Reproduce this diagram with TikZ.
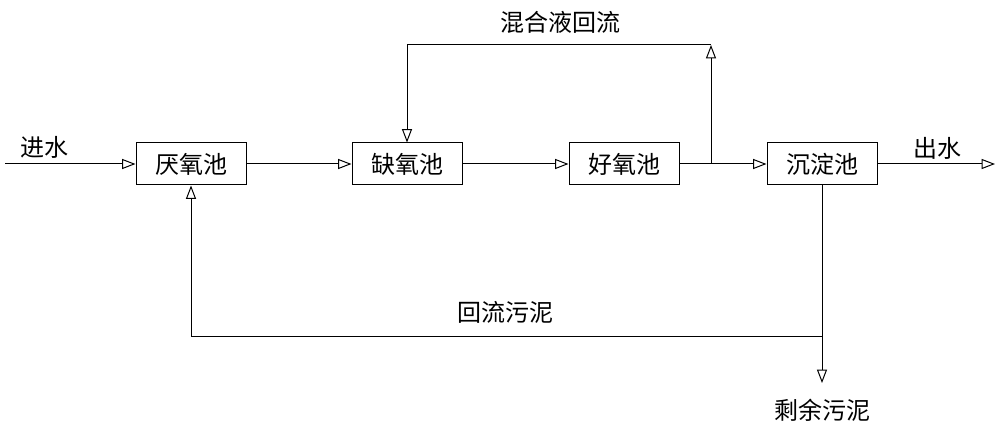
\documentclass[tikz,border=0pt]{standalone}
\usepackage{fontspec}
\setmainfont{Noto Sans CJK SC}
\usetikzlibrary{arrows.meta}
\tikzset{every picture/.style={line width=0.75pt}}
\tikzset{tank/.style={draw,minimum width=82.5pt,minimum height=31.5pt,inner sep=0pt,font=\fontsize{18}{20}\selectfont},
  lbl/.style={inner sep=0.75pt,font=\fontsize{18}{20}\selectfont},
  flow/.style={-{Triangle[open,length=10pt,width=7.5pt]}}}
\begin{document}
\begin{tikzpicture}[x=0.75pt,y=0.75pt,yscale=-1,xscale=1]
    \useasboundingbox (0,0) rectangle (1000,431);
    
    % Tanks
    \node [tank] (anae) at (191,164) {厌氧池};
    \node [tank] (anox) at (407,164) {缺氧池};
    \node [tank] (aero) at (624,164) {好氧池};
    \node [tank] (sett) at (822,164) {沉淀池};
    
    % Junctions
    \coordinate (inlet) at (5,164);
    \coordinate (outlet) at (995,164);
    \coordinate (split) at (711,164);
    \coordinate (rtop) at (711,45);
    \coordinate (ltop) at (407,45);
    \coordinate (sjoin) at (822,336);
    \coordinate (sret) at (191,336);
    \coordinate (sout) at (822,383);
    
    % Main flow
    \draw [flow] (inlet) -- (anae.west);
    \draw [flow] (anae.east) -- (anox.west);
    \draw [flow] (anox.east) -- (aero.west);
    \draw [flow] (aero.east) -- (sett.west);
    \draw [flow] (sett.east) -- (outlet);
    
    % Mixed liquor recycle
    \draw [flow] (split) -- (rtop);
    \draw [flow] (rtop) -- (ltop) -- (anox.north);
    
    % Sludge
    \draw [flow] (sett.south) -- (sout);
    \draw [flow] (sjoin) -- (sret) -- (anae.south);
    
    % Text Node
    \node [lbl] (tin) at (45,147) {进水};
    \node [lbl] (tout) at (937,148) {出水};
    \node [lbl] (tmix) at (560,22) {混合液回流};
    \node [lbl] (tret) at (505,312) {回流污泥};
    \node [lbl] (tex) at (822,410) {剩余污泥};
\end{tikzpicture}
\end{document}
